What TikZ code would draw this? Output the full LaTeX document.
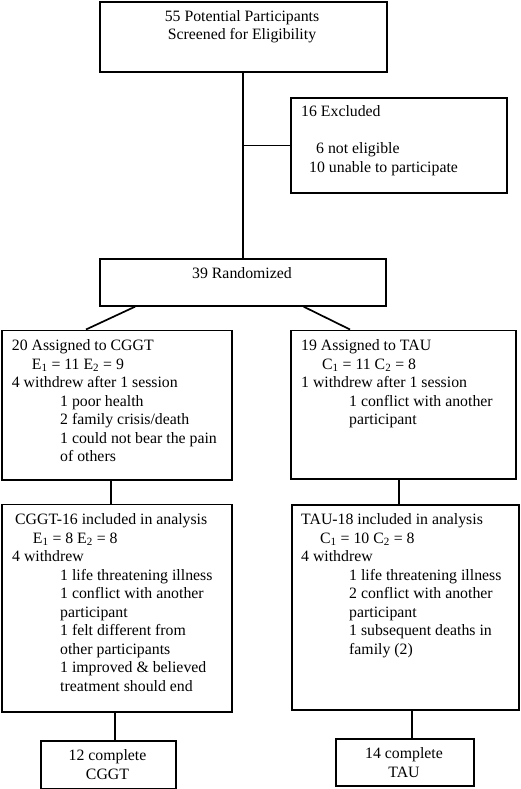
\documentclass[tikz,border=0pt]{standalone}
\usepackage{fontspec}
\setmainfont{Liberation Serif}
\usetikzlibrary{calc}
\newcommand\figfont{\fontsize{15.8}{18.5}\selectfont}
\begin{document}
\begin{tikzpicture}[x=1pt,y=-1pt,
  box/.style={draw, line width=1.7pt, inner sep=0pt, anchor=north west},
  txt/.style={inner sep=0pt, anchor=north west, align=left, font=\figfont},
  ctxt/.style={inner sep=0pt, anchor=north, align=center, font=\figfont},
  link/.style={line width=1.7pt}]
\useasboundingbox[fill=white] (0,0) rectangle (520,789);

% boxes
\node[box, minimum width=287pt, minimum height=70.5pt] (top) at (99,1) {};
\node[box, minimum width=216pt, minimum height=95pt] (excl) at (290,97) {};
\node[box, minimum width=286pt, minimum height=47pt] (rand) at (99,258) {};
\node[box, minimum width=230pt, minimum height=149.5pt] (cggt) at (1,329.5) {};
\node[box, minimum width=225pt, minimum height=148.5pt] (tau) at (290,329.5) {};
\node[box, minimum width=230pt, minimum height=207.5pt] (cggtA) at (1,503.5) {};
\node[box, minimum width=227pt, minimum height=205pt] (tauA) at (291,504) {};
\node[box, minimum width=135pt, minimum height=48pt] (cggtC) at (40,740) {};
\node[box, minimum width=138pt, minimum height=47pt] (tauC) at (335,738) {};

% texts
\node[ctxt] (topT) at (242,10.2) {55 Potential Participants\\Screened for Eligibility};
\node[txt] (exclT) at (301,105.5) {16 Excluded\\[18.5pt]\hspace*{15pt}6 not eligible\\\hspace*{8pt}10 unable to participate};
\node[ctxt] (randT) at (242,267.8) {39 Randomized};
\node[txt] (cggtT) at (11.7,339.5) {20 Assigned to CGGT\\
\hspace*{20pt}E\textsubscript{1} = 11 E\textsubscript{2} = 9\\
4 withdrew after 1 session\\
\hspace*{48.3pt}1 poor health\\
\hspace*{48.3pt}2 family crisis/death\\
\hspace*{48.3pt}1 could not bear the pain\\
\hspace*{48.3pt}of others};
\node[txt] (tauT) at (301,339.5) {19 Assigned to TAU\\
\hspace*{21pt}C\textsubscript{1} = 11 C\textsubscript{2} = 8\\
1 withdrew after 1 session\\
\hspace*{48pt}1 conflict with another\\
\hspace*{48pt}participant};
\node[txt] (cggtAT) at (12,513.5) {\hspace*{3pt}CGGT-16 included in analysis\\
\hspace*{20.7pt}E\textsubscript{1} = 8 E\textsubscript{2} = 8\\
4 withdrew\\
\hspace*{48pt}1 life threatening illness\\
\hspace*{48pt}1 conflict with another\\
\hspace*{48pt}participant\\
\hspace*{48pt}1 felt different from\\
\hspace*{48pt}other participants\\
\hspace*{48pt}1 improved \& believed\\
\hspace*{48pt}treatment should end};
\node[txt] (tauAT) at (301,513.5) {TAU-18 included in analysis\\
\hspace*{19pt}C\textsubscript{1} = 10 C\textsubscript{2} = 8\\
4 withdrew\\
\hspace*{48pt}1 life threatening illness\\
\hspace*{48pt}2 conflict with another\\
\hspace*{48pt}participant\\
\hspace*{48pt}1 subsequent deaths in\\
\hspace*{48pt}family (2)};
\node[ctxt] (cggtCT) at (107.5,749.5) {12 complete\\CGGT};
\node[ctxt] (tauCT) at (404,747.8) {14 complete\\TAU};

% connector anchor points
\coordinate (topS) at ($(top.south)+(-0.5,0)$);
\coordinate (cggtS) at ($(cggt.south)+(-6,0)$);
\coordinate (tauS) at ($(tau.south)+(-4.5,0)$);
\coordinate (cggtCN) at ($(cggtC.north)+(6.5,0)$);
\coordinate (tauCN) at ($(tauC.north)+(7,0)$);
\coordinate (randL) at ($(rand.south west)+(36,0)$);
\coordinate (randR) at ($(rand.south east)+(-83,0)$);
\coordinate (cggtN) at ($(cggt.north west)+(85,0)$);
\coordinate (tauN) at ($(tau.north west)+(60,0)$);

% connectors
\draw[link] (topS) -- (topS |- rand.north);
\draw[link] (excl.west) -- (excl.west -| topS);
\draw[link] (randL) -- (cggtN);
\draw[link] (randR) -- (tauN);
\draw[link] (cggtS) -- (cggtS |- cggtA.north);
\draw[link] (tauS) -- (tauS |- tauA.north);
\draw[link] (cggtCN) -- (cggtCN |- cggtA.south);
\draw[link] (tauCN) -- (tauCN |- tauA.south);
\end{tikzpicture}
\end{document}
